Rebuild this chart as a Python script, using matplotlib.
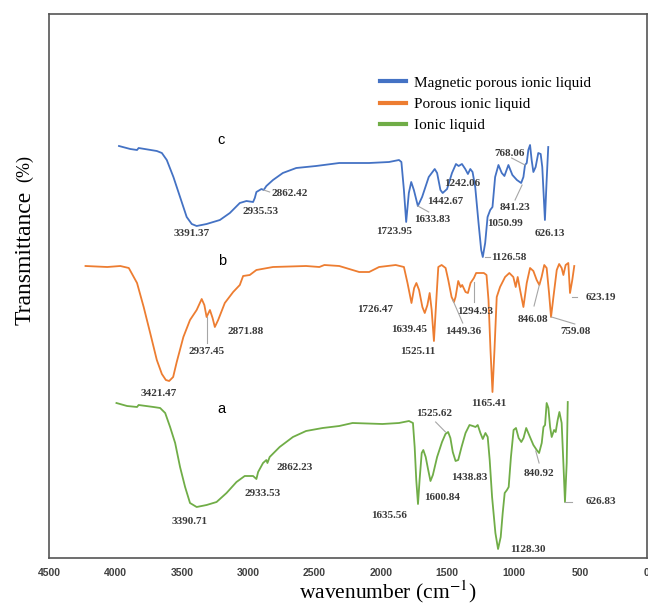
import matplotlib
matplotlib.use('Agg')
import matplotlib.pyplot as plt

plt.rcParams['mathtext.fontset'] = 'stix'

# wavenumber (cm-1) and relative transmittance (offset traces)
mag_w = [3973, 3888, 3837, 3825, 3688, 3650, 3613, 3563, 3513, 3463,
         3425, 3388, 3313, 3213, 3138, 3063, 3013, 2963, 2950, 2938,
         2900, 2883, 2863, 2813, 2739, 2638, 2489, 2314, 2089, 1939,
         1864, 1846, 1827, 1810, 1790, 1772, 1752, 1722, 1690, 1640,
         1595, 1577, 1552, 1535, 1502, 1465, 1435, 1415, 1390, 1365,
         1345, 1327, 1310, 1290, 1265, 1245, 1233, 1215, 1197, 1177,
         1160, 1140, 1115, 1090, 1070, 1040, 1010, 976, 944, 927,
         915, 902, 890, 877, 865, 852, 835, 815, 797, 785,
         765, 753, 740]
mag_t = [412, 409, 408, 410, 407, 405, 398, 381, 361, 341,
         334, 332, 334, 338, 345, 355, 357, 356, 360, 366,
         369, 368, 372, 378, 385, 390, 392, 395, 395, 396,
         398, 396, 368, 336, 365, 376, 368, 352, 361, 381,
         389, 385, 368, 365, 369, 385, 394, 392, 394, 389,
         384, 389, 386, 371, 335, 308, 301, 315, 341, 348,
         351, 381, 393, 385, 382, 393, 383, 378, 375, 381,
         393, 395, 408, 413, 398, 386, 391, 405, 404, 391,
         338, 375, 411]

por_w = [4225, 4061, 3963, 3899, 3837, 3787, 3738, 3688, 3650, 3620,
         3595, 3565, 3538, 3488, 3438, 3388, 3350, 3330, 3313, 3288,
         3268, 3251, 3226, 3176, 3113, 3063, 3038, 2988, 2938, 2813,
         2564, 2464, 2426, 2314, 2164, 2089, 2014, 1889, 1827, 1800,
         1770, 1750, 1733, 1713, 1688, 1670, 1650, 1633, 1618, 1601,
         1583, 1568, 1543, 1513, 1493, 1468, 1450, 1438, 1418, 1400,
         1388, 1363, 1345, 1325, 1300, 1283, 1263, 1225, 1205, 1190,
         1175, 1160, 1145, 1128, 1103, 1065, 1033, 1003, 985, 970,
         952, 927, 902, 877, 852, 827, 807, 790, 770, 752,
         734, 719, 701, 676, 658, 639, 626, 609, 589, 576,
         559, 544]
por_t = [292, 291, 292, 290, 275, 251, 225, 198, 184, 178,
         177, 181, 196, 221, 238, 248, 259, 253, 241, 248,
         240, 231, 238, 255, 266, 273, 282, 283, 288, 291,
         292, 291, 293, 292, 286, 286, 291, 293, 291, 275,
         255, 270, 275, 268, 251, 245, 253, 265, 248, 217,
         258, 291, 293, 290, 278, 261, 256, 261, 277, 271,
         273, 266, 265, 275, 280, 285, 285, 285, 283, 258,
         208, 166, 208, 261, 271, 281, 285, 281, 271, 281,
         268, 251, 275, 290, 287, 278, 273, 281, 293, 290,
         265, 241, 261, 288, 294, 290, 283, 293, 295, 265,
         278, 292]

il_w = [3992, 3912, 3837, 3825, 3713, 3663, 3625, 3588, 3550, 3513,
        3475, 3438, 3388, 3313, 3238, 3163, 3088, 3026, 2963, 2938,
        2925, 2888, 2863, 2855, 2838, 2763, 2663, 2564, 2439, 2314,
        2214, 1989, 1864, 1789, 1759, 1746, 1734, 1721, 1709, 1693,
        1681, 1663, 1644, 1627, 1609, 1577, 1540, 1514, 1494, 1477,
        1459, 1438, 1418, 1393, 1363, 1333, 1308, 1288, 1271, 1251,
        1233, 1213, 1196, 1181, 1163, 1138, 1118, 1098, 1083, 1068,
        1051, 1038, 1021, 1001, 983, 963, 943, 926, 906, 884,
        852, 827, 809, 789, 776, 764, 752, 739, 726, 714,
        696, 684, 669, 656, 639, 626, 614, 601, 593]
il_t = [155, 152, 151, 153, 151, 150, 145, 131, 115, 91,
        71, 55, 51, 53, 56, 65, 76, 82, 82, 79,
        86, 95, 98, 95, 101, 111, 121, 127, 130, 132,
        135, 134, 135, 137, 135, 111, 78, 54, 78, 105,
        108, 101, 88, 77, 83, 101, 116, 124, 126, 120,
        106, 97, 98, 111, 125, 133, 132, 131, 133, 125,
        119, 125, 121, 98, 61, 25, 9, 21, 45, 65,
        68, 71, 101, 128, 130, 120, 116, 120, 130, 123,
        113, 108, 105, 115, 131, 133, 155, 150, 131, 121,
        128, 126, 138, 146, 135, 95, 56, 95, 156]

series_names = ['Magnetic porous ionic liquid', 'Porous ionic liquid', 'Ionic liquid']
series_colors = ['#4472C4', '#ED7D31', '#70AD47']

# peak labels: text, text position (wavenumber, y)
peak_labels = [
    ('3391.37', 3425, 325), ('2935.53', 2908, 346), ('2862.42', 2689, 365),
    ('1723.95', 1903, 326), ('1633.83', 1612, 338), ('1442.67', 1515, 356),
    ('1242.06', 1385, 374), ('1126.58', 1040, 301), ('1050.99', 1063, 334),
    ('841.23', 990, 351), ('768.06', 1030, 405), ('626.13', 727, 325),
    ('3421.47', 3673, 165), ('2937.45', 3313, 206), ('2871.88', 3019, 226),
    ('1726.47', 2042, 249), ('1639.45', 1789, 228), ('1525.11', 1726, 206),
    ('1449.36', 1384, 226), ('1294.93', 1291, 247), ('1165.41', 1190, 154),
    ('846.08', 852, 239), ('759.08', 536, 227), ('623.19', 346, 260),
    ('3390.71', 3438, 36), ('2933.53', 2888, 65), ('2862.23', 2651, 90),
    ('1635.56', 1942, 42), ('1600.84', 1538, 61), ('1525.62', 1601, 144),
    ('1438.83', 1333, 81), ('1128.30', 891, 8), ('840.92', 809, 85),
    ('626.83', 346, 56),
]

# leader lines (w1, y1, w2, y2)
leaders = [
    (2883, 368, 2838, 366), (1722, 352, 1640, 346), (1215, 301, 1177, 301),
    (937, 373, 990, 358), (1016, 400, 915, 393),
    (3313, 241, 3313, 215), (1459, 258, 1384, 235), (1300, 276, 1300, 256),
    (807, 273, 847, 252), (715, 241, 540, 234), (564, 261, 527, 261),
    (1588, 136, 1514, 126), (834, 107, 809, 95), (614, 56, 564, 56),
]

trace_letters = [('c', 3206, 418), ('b', 3198, 297), ('a', 3198, 149)]

fig = plt.figure(figsize=(6.48, 6.06), dpi=100)
ax = fig.add_axes([49 / 648, 48 / 606, 597.5 / 648, 544 / 606])

for w, t, name, color in zip([mag_w, por_w, il_w], [mag_t, por_t, il_t], series_names, series_colors):
    ax.plot(w, t, color=color, lw=1.3, label=name)

for text, x, y in peak_labels:
    ax.text(x, y, text, ha='center', va='center', fontsize=8, fontweight='bold',
            family='Liberation Serif', color='#3a3a3a')

for x1, y1, x2, y2 in leaders:
    ax.plot([x1, x2], [y1, y2], color='#a6a6a6', lw=0.8)

for letter, x, y in trace_letters:
    ax.text(x, y, letter, ha='center', va='center', fontsize=10.5, family='Liberation Sans')

ax.set_xlim(4500, 0)
ax.set_ylim(0, 544)
ax.set_xticks(range(4500, -1, -500))
ax.set_yticks([])
ax.tick_params(axis='x', length=0, pad=7, labelsize=7.5, labelcolor='#404040')
for lab in ax.get_xticklabels():
    lab.set_fontweight('bold')
    lab.set_family('Liberation Sans')
for sp in ax.spines.values():
    sp.set_color('#555555')
    sp.set_linewidth(1.2)

leg = ax.legend(loc='upper left', bbox_to_anchor=(380 / 648, 1 - 76 / 606),
                bbox_transform=fig.transFigure, frameon=False, borderpad=0,
                borderaxespad=0, handlelength=1.7, handletextpad=0.5, labelspacing=0.5,
                prop={'family': 'Liberation Serif', 'size': 11})
for line in leg.get_lines():
    line.set_linewidth(3)

fig.text(25 / 648, 1 - 258 / 606, 'Transmittance', rotation=90, ha='center', va='center',
         fontsize=17, family='Liberation Serif')
fig.text(25 / 648, 1 - 168 / 606, '(%)', rotation=90, ha='center', va='center',
         fontsize=13, family='Liberation Serif')
fig.text(388 / 648, 1 - 592 / 606, 'wavenumber (cm$^{-1}$)', ha='center', va='center',
         fontsize=15.5, family='Liberation Serif')

fig.savefig('out.png', dpi=100)
